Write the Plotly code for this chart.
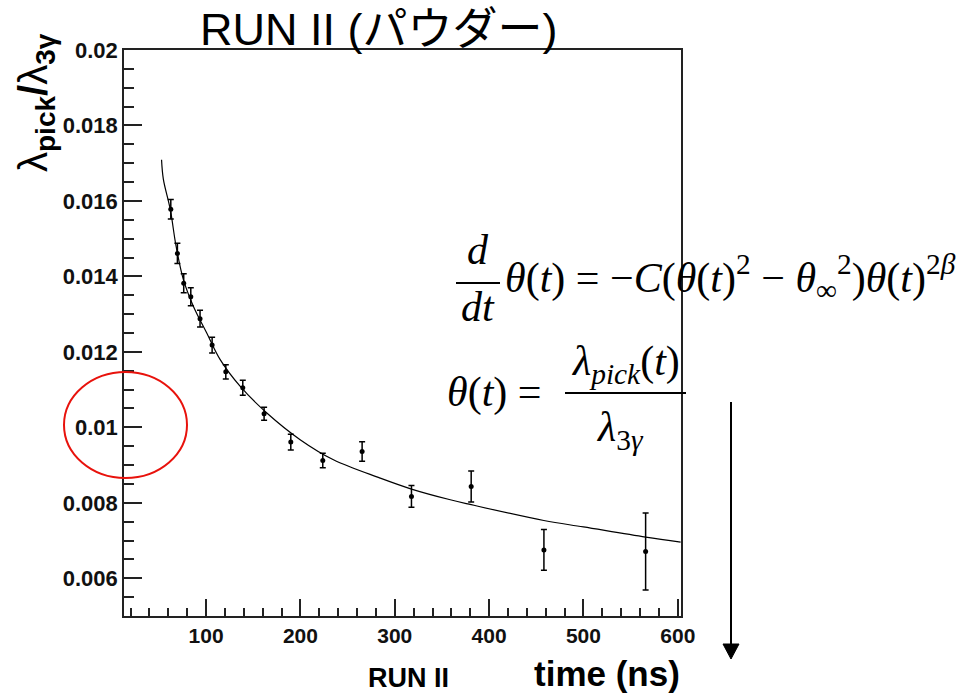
import plotly.graph_objects as go

# ---- data ----
t_ns = [62.6, 69.6, 76.3, 83.8, 93.6, 106.4, 120.9, 138.9, 161.5, 189.8,
        223.7, 265.4, 317.7, 381.0, 458.1, 565.9]
ratio = [0.01578, 0.01461, 0.01382, 0.01346, 0.01288, 0.01218, 0.01147, 0.01105,
         0.01036, 0.00961, 0.00912, 0.00936, 0.00817, 0.00843, 0.00675, 0.00671]
ratio_err = [0.00026, 0.00027, 0.00025, 0.00024, 0.00022, 0.00021, 0.00019, 0.00020,
             0.00017, 0.00021, 0.00019, 0.00026, 0.00029, 0.00041, 0.00054, 0.00102]

fit_t = [52.8, 54.7, 62.0, 68.2, 75.9, 86.5, 100.7, 114.8, 136.0, 164.4, 199.7,
         235.0, 284.5, 317.7, 358.8, 381.0, 458.0, 500.0, 565.9, 603.0]
fit_y = [0.01709, 0.01658, 0.01578, 0.01480, 0.01392, 0.01321, 0.01250, 0.01180,
         0.01109, 0.01038, 0.009673, 0.00914, 0.008655, 0.008364, 0.00808, 0.00795,
         0.00753, 0.00736, 0.00709, 0.00696]

x_tickvals = [100, 200, 300, 400, 500, 600]
x_ticktext = ["100", "200", "300", "400", "500", "600"]
y_tickvals = [0.006, 0.008, 0.010, 0.012, 0.014, 0.016, 0.018, 0.020]
y_ticktext = ["0.006", "0.008", "0.01", "0.012", "0.014", "0.016", "0.018", "0.02"]

title_text = "RUN II (パウダー)"
xlabel_text = "time (ns)"
run_label = "RUN II"

W, H = 974, 693
L, R, T, B = 124, 681, 50, 616


def px(p):
    return (p - L) / (R - L)


def py(p):
    return (B - p) / (B - T)


SANS = "Liberation Sans, Arial, Noto Sans CJK JP"
SERIF = "Liberation Serif, Times New Roman, serif"

fig = go.Figure()
fig.add_trace(go.Scatter(
    x=fit_t, y=fit_y, mode="lines",
    line=dict(color="black", width=1.2, shape="spline"),
    showlegend=False, hoverinfo="skip"))
fig.add_trace(go.Scatter(
    x=t_ns, y=ratio, mode="markers",
    marker=dict(color="black", size=5),
    error_y=dict(type="data", array=ratio_err, color="black", thickness=1.5, width=3),
    showlegend=False))

axis_common = dict(showgrid=False, zeroline=False, showline=True, linecolor="#222",
                   linewidth=1.6, mirror=True, ticks="inside", tickcolor="#222",
                   tickwidth=1.6)
fig.update_xaxes(range=[13, 603.4], tickvals=x_tickvals, ticktext=x_ticktext,
                 ticklen=17,
                 tickfont=dict(family=SANS, size=21, color="#111", weight="bold"),
                 minor=dict(dtick=20, tick0=0, ticklen=8, ticks="inside",
                            tickcolor="#222", tickwidth=1.5),
                 **axis_common)
fig.update_yaxes(range=[0.005, 0.020], tickvals=y_tickvals, ticktext=y_ticktext,
                 ticklen=18,
                 tickfont=dict(family=SANS, size=22, color="#111", weight="bold"),
                 minor=dict(dtick=0.0005, tick0=0, ticklen=10, ticks="inside",
                            tickcolor="#222", tickwidth=1.5),
                 **axis_common)

ann = []
# title
ann.append(dict(x=px(378), y=py(30), xref="paper", yref="paper", text=title_text,
                showarrow=False, xanchor="center", yanchor="middle",
                font=dict(family=SANS, size=45, color="black")))
# y-axis title
ann.append(dict(x=px(36), y=py(103), xref="paper", yref="paper",
                text="<span style='font-weight:normal'>λ</span><b><sub>pick</sub>/</b>"
                     "<span style='font-weight:normal'>λ</span><b><sub>3γ</sub></b>",
                textangle=-90,
                showarrow=False, xanchor="center", yanchor="middle",
                font=dict(family=SANS, size=40, color="black")))
# bottom labels
ann.append(dict(x=px(408), y=py(678), xref="paper", yref="paper", text=run_label,
                showarrow=False, xanchor="center", yanchor="middle",
                font=dict(family=SANS, size=27, color="black", weight="bold")))
ann.append(dict(x=px(607), y=py(673), xref="paper", yref="paper", text=xlabel_text,
                showarrow=False, xanchor="center", yanchor="middle",
                font=dict(family=SANS, size=35, color="black", weight="bold")))

EQ = dict(family=SERIF, size=42, color="black")
# equation 1: d/dt
ann.append(dict(x=px(478), y=py(250), xref="paper", yref="paper", text="<i>d</i>",
                showarrow=False, xanchor="center", yanchor="middle", font=EQ))
ann.append(dict(x=px(478), y=py(307), xref="paper", yref="paper", text="<i>dt</i>",
                showarrow=False, xanchor="center", yanchor="middle", font=EQ))
ann.append(dict(x=px(503), y=py(277), xref="paper", yref="paper",
                text="<i>θ</i>(<i>t</i>) = −<i>C</i>(<i>θ</i>(<i>t</i>)<sup>2</sup> − "
                     "<i>θ</i><sub>∞</sub><sup>2</sup>)<i>θ</i>(<i>t</i>)<sup>2<i>β</i></sup>",
                showarrow=False, xanchor="left", yanchor="middle", font=EQ))
# equation 2
ann.append(dict(x=px(445), y=py(392), xref="paper", yref="paper",
                text="<i>θ</i>(<i>t</i>) =",
                showarrow=False, xanchor="left", yanchor="middle", font=EQ))
ann.append(dict(x=px(625), y=py(364), xref="paper", yref="paper",
                text="<i>λ</i><sub><i>pick</i></sub>(<i>t</i>)",
                showarrow=False, xanchor="center", yanchor="middle", font=EQ))
ann.append(dict(x=px(620), y=py(430), xref="paper", yref="paper",
                text="<i>λ</i><sub>3<i>γ</i></sub>",
                showarrow=False, xanchor="center", yanchor="middle", font=EQ))

shapes = [
    dict(type="line", xref="paper", yref="paper", x0=px(456), x1=px(500),
         y0=py(283), y1=py(283), line=dict(color="black", width=2)),
    dict(type="line", xref="paper", yref="paper", x0=px(565), x1=px(686),
         y0=py(393), y1=py(393), line=dict(color="black", width=2)),
    dict(type="circle", xref="paper", yref="paper", x0=px(64), x1=px(187),
         y0=py(478), y1=py(372), line=dict(color="#e8120c", width=2)),
    dict(type="line", xref="paper", yref="paper", x0=px(731), x1=px(731),
         y0=py(402), y1=py(646), line=dict(color="black", width=2)),
    dict(type="path", xref="paper", yref="paper",
         path=f"M {px(723)} {py(644)} L {px(739)} {py(644)} L {px(731)} {py(659)} Z",
         fillcolor="black", line=dict(color="black", width=1)),
]

fig.update_layout(width=W, height=H, margin=dict(l=L, r=W - R, t=T, b=H - B),
                  paper_bgcolor="white", plot_bgcolor="white",
                  annotations=ann, shapes=shapes)
fig.write_html("out.html")
